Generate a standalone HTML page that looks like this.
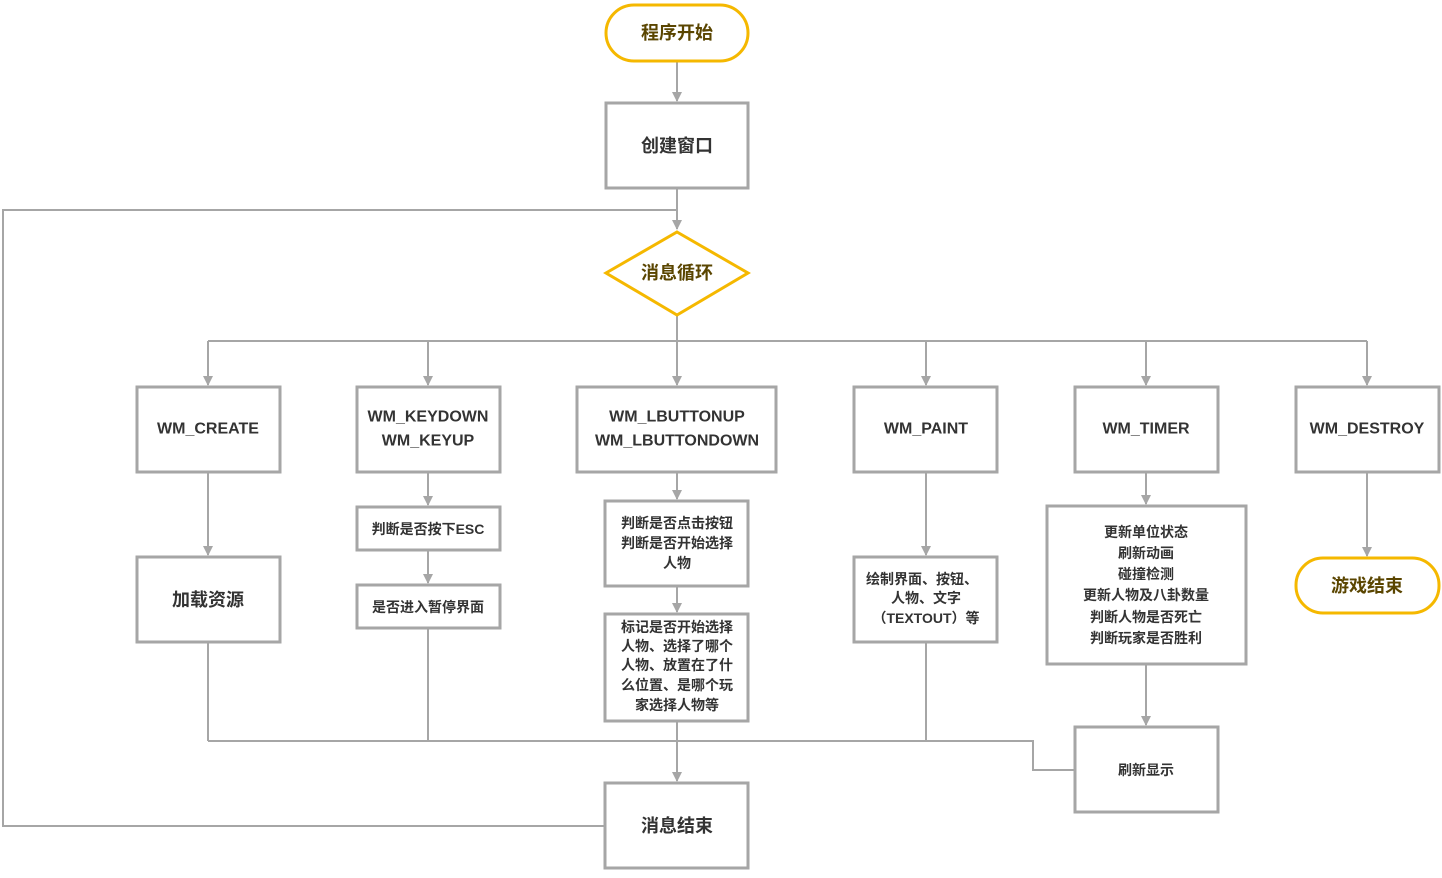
<!DOCTYPE html>
<html><head><meta charset="utf-8"><style>
html,body{margin:0;padding:0;background:#fff}
svg text{font-family:"Liberation Sans","Noto Sans CJK SC",sans-serif;fill:#333;font-weight:bold;text-anchor:middle;dominant-baseline:central}
</style></head><body>
<svg width="1442" height="873" viewBox="0 0 1442 873" xmlns="http://www.w3.org/2000/svg">
<defs><marker id="a" markerWidth="10" markerHeight="10" refX="9" refY="5" orient="auto" markerUnits="userSpaceOnUse"><path d="M0,0 L10,5 L0,10 z" fill="#a6a6a6"/></marker></defs>
<g stroke="#a6a6a6" stroke-width="2" fill="none">
<line x1="677" y1="61" x2="677" y2="101" marker-end="url(#a)"/>
<line x1="677" y1="188" x2="677" y2="229" marker-end="url(#a)"/>
<polyline points="605,826 3,826 3,210 677,210"/>
<line x1="677" y1="315" x2="677" y2="385" marker-end="url(#a)"/>
<line x1="208" y1="341" x2="1367" y2="341"/>
<line x1="208" y1="341" x2="208" y2="385" marker-end="url(#a)"/>
<line x1="428" y1="341" x2="428" y2="385" marker-end="url(#a)"/>
<line x1="926" y1="341" x2="926" y2="385" marker-end="url(#a)"/>
<line x1="1146" y1="341" x2="1146" y2="385" marker-end="url(#a)"/>
<line x1="1367" y1="341" x2="1367" y2="385" marker-end="url(#a)"/>
<line x1="208" y1="472" x2="208" y2="555" marker-end="url(#a)"/>
<line x1="428" y1="472" x2="428" y2="505" marker-end="url(#a)"/>
<line x1="428" y1="550" x2="428" y2="583" marker-end="url(#a)"/>
<line x1="677" y1="472" x2="677" y2="499" marker-end="url(#a)"/>
<line x1="677" y1="586" x2="677" y2="612" marker-end="url(#a)"/>
<line x1="677" y1="721" x2="677" y2="781" marker-end="url(#a)"/>
<line x1="926" y1="472" x2="926" y2="555" marker-end="url(#a)"/>
<line x1="1146" y1="472" x2="1146" y2="504" marker-end="url(#a)"/>
<line x1="1146" y1="664" x2="1146" y2="725" marker-end="url(#a)"/>
<line x1="1367" y1="472" x2="1367" y2="556" marker-end="url(#a)"/>
<line x1="208" y1="642" x2="208" y2="741"/>
<line x1="428" y1="628" x2="428" y2="741"/>
<line x1="926" y1="642" x2="926" y2="741"/>
<polyline points="208,741 1033,741 1033,770 1075,770"/>
</g>
<g stroke="#a6a6a6" stroke-width="3" fill="#fff">
<rect x="606" y="103" width="142" height="85"/>
<rect x="137" y="387" width="143" height="85"/>
<rect x="357" y="387" width="143" height="85"/>
<rect x="577" y="387" width="199" height="85"/>
<rect x="854" y="387" width="143" height="85"/>
<rect x="1075" y="387" width="143" height="85"/>
<rect x="1296" y="387" width="143" height="85"/>
<rect x="137" y="557" width="143" height="85"/>
<rect x="357" y="507" width="143" height="43"/>
<rect x="357" y="585" width="143" height="43"/>
<rect x="605" y="501" width="143" height="85"/>
<rect x="605" y="614" width="143" height="107"/>
<rect x="854" y="557" width="143" height="85"/>
<rect x="1047" y="506" width="199" height="158"/>
<rect x="1075" y="727" width="143" height="85"/>
<rect x="605" y="783" width="143" height="85"/>
</g>
<g stroke="#f5b800" stroke-width="3" fill="#fff">
<rect x="606" y="5" width="142" height="56" rx="28"/>
<polygon points="677,232 748,273 677,315 606,273"/>
<rect x="1296" y="558" width="143" height="55" rx="27"/>
</g>
<g font-size="18">
<text x="677" y="33" fill="#5a4500" style="fill:#5a4500">程序开始</text>
<text x="677" y="146">创建窗口</text>
<text x="677" y="273" style="fill:#5a4500">消息循环</text>
<text x="1367" y="586" style="fill:#5a4500">游戏结束</text>
<text x="208" y="600">加载资源</text>
<text x="677" y="826">消息结束</text>
</g>
<g font-size="16">
<text x="208" y="429">WM_CREATE</text>
<text x="428" y="417">WM_KEYDOWN</text>
<text x="428" y="441">WM_KEYUP</text>
<text x="677" y="417">WM_LBUTTONUP</text>
<text x="677" y="441">WM_LBUTTONDOWN</text>
<text x="926" y="429">WM_PAINT</text>
<text x="1146" y="429">WM_TIMER</text>
<text x="1367" y="429">WM_DESTROY</text>
</g>
<g font-size="14">
<text x="428" y="529">判断是否按下ESC</text>
<text x="428" y="607">是否进入暂停界面</text>
<text x="677" y="523">判断是否点击按钮</text>
<text x="677" y="543">判断是否开始选择</text>
<text x="677" y="563">人物</text>
<text x="677" y="627">标记是否开始选择</text>
<text x="677" y="646">人物、选择了哪个</text>
<text x="677" y="665">人物、放置在了什</text>
<text x="677" y="685">么位置、是哪个玩</text>
<text x="677" y="705">家选择人物等</text>
<text x="922" y="579">绘制界面、按钮、</text>
<text x="926" y="598">人物、文字</text>
<text x="926" y="618">（TEXTOUT）等</text>
<text x="1146" y="532">更新单位状态</text>
<text x="1146" y="553">刷新动画</text>
<text x="1146" y="574">碰撞检测</text>
<text x="1146" y="595">更新人物及八卦数量</text>
<text x="1146" y="617">判断人物是否死亡</text>
<text x="1146" y="638">判断玩家是否胜利</text>
<text x="1146" y="770">刷新显示</text>
</g>
</svg>
</body></html>
